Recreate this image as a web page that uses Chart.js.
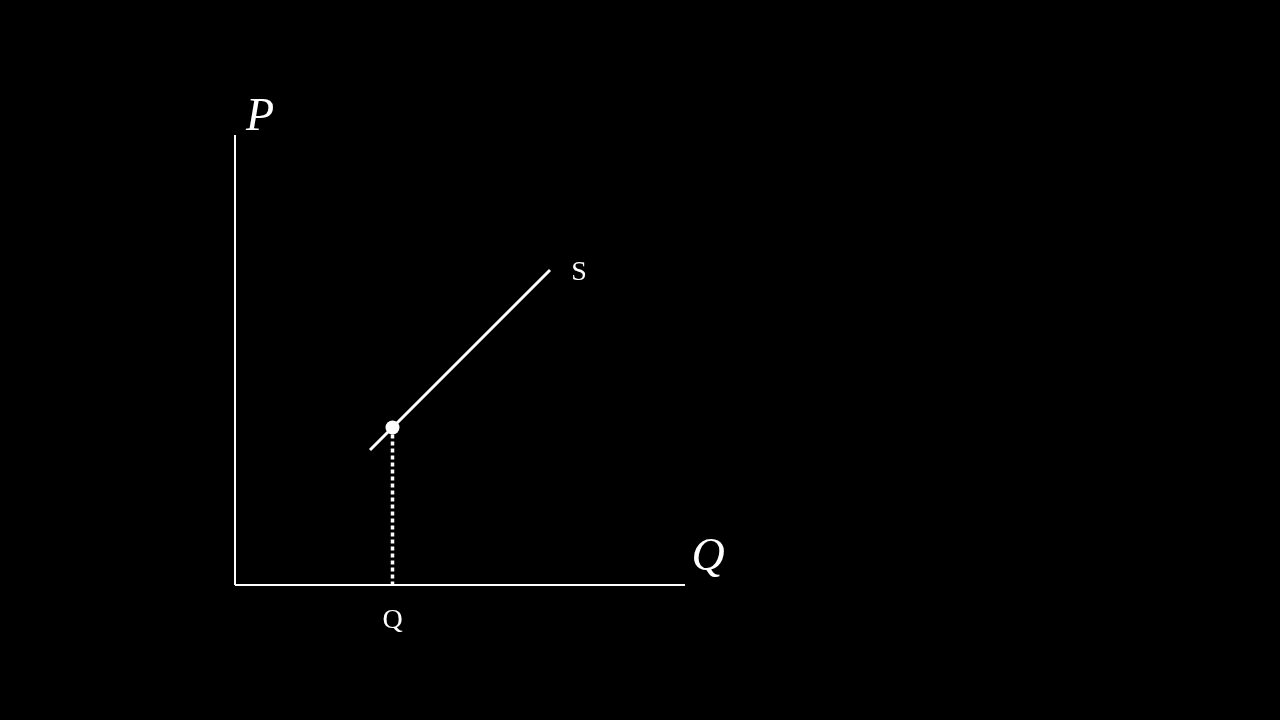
<!DOCTYPE html>
<html>
<head>
<meta charset="utf-8">
<script src="https://cdn.jsdelivr.net/npm/chart.js@4/dist/chart.umd.min.js"></script>
<style>
html,body{margin:0;padding:0;background:#000;}
#wrap{width:1280px;height:720px;}
</style>
</head>
<body>
<div id="wrap"><canvas id="c" width="1280" height="720"></canvas></div>
<script>
// Data (in chart units)
const supplyX = [3, 7];
const supplyY = [3, 7];
const equilibriumX = [3.5];
const equilibriumY = [3.5];
const axisMax = 10;
const axisTitleY = "P";
const axisTitleX = "Q";
const curveLabel = "S";
const quantityLabel = "Q";

const toPts = (xs, ys) => xs.map((x, i) => ({x: x, y: ys[i]}));

const textPlugin = {
  id: 'texts',
  afterDatasetsDraw(chart) {
    const ctx = chart.ctx;
    const xs = chart.scales.x, ys = chart.scales.y;
    ctx.save();
    ctx.fillStyle = '#fff';
    ctx.textAlign = 'center';
    ctx.textBaseline = 'alphabetic';
    // axis titles
    ctx.font = 'italic 46px "Liberation Serif", "DejaVu Serif", serif';
    ctx.fillText(axisTitleY, xs.getPixelForValue(0) + 25, ys.getPixelForValue(axisMax) - 5);
    ctx.fillText(axisTitleX, xs.getPixelForValue(axisMax) + 23, ys.getPixelForValue(0) - 15);
    // curve label
    ctx.font = '28px "Liberation Serif", "DejaVu Serif", serif';
    const lx = supplyX[supplyX.length - 1], ly = supplyY[supplyY.length - 1];
    ctx.fillText(curveLabel, xs.getPixelForValue(lx) + 29, ys.getPixelForValue(ly) + 10);
    // quantity label
    ctx.fillText(quantityLabel, xs.getPixelForValue(equilibriumX[0]), ys.getPixelForValue(0) + 43);
    ctx.restore();
  }
};

new Chart(document.getElementById('c'), {
  type: 'scatter',
  data: {
    datasets: [
      { // y axis
        data: [{x: 0, y: 0}, {x: 0, y: axisMax}],
        showLine: true, borderColor: '#fff', borderWidth: 2, pointRadius: 0, clip: false
      },
      { // x axis
        data: [{x: 0, y: 0}, {x: axisMax, y: 0}],
        showLine: true, borderColor: '#fff', borderWidth: 2, pointRadius: 0, clip: false
      },
      { // dotted drop line
        data: [{x: equilibriumX[0], y: equilibriumY[0]}, {x: equilibriumX[0], y: 0}],
        showLine: true, borderColor: '#fff', borderWidth: 3.5, borderDash: [4, 3],
        pointRadius: 0, clip: false
      },
      { // supply curve
        data: toPts(supplyX, supplyY),
        showLine: true, borderColor: '#fff', borderWidth: 3, pointRadius: 0, clip: false
      },
      { // equilibrium point
        data: toPts(equilibriumX, equilibriumY),
        showLine: false, pointRadius: 7, pointBackgroundColor: '#fff', pointBorderWidth: 0,
        pointBorderColor: '#fff', clip: false
      }
    ]
  },
  options: {
    responsive: false,
    animation: false,
    layout: { padding: { left: 235, right: 595, top: 135, bottom: 135 } },
    plugins: { legend: { display: false }, tooltip: { enabled: false } },
    scales: {
      x: { type: 'linear', min: 0, max: axisMax, display: false },
      y: { type: 'linear', min: 0, max: axisMax, display: false }
    }
  },
  plugins: [textPlugin]
});
</script>
</body>
</html>
